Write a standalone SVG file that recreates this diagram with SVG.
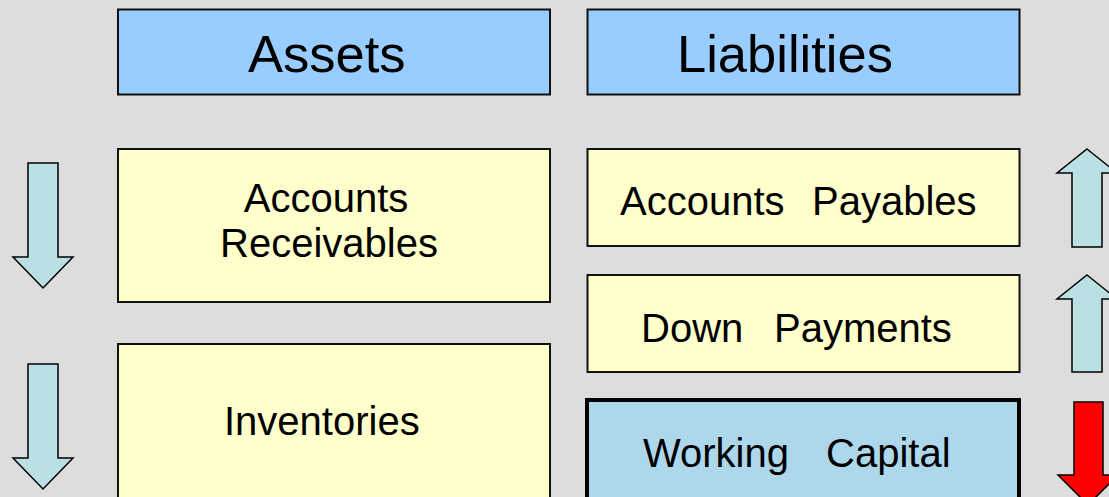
<svg xmlns="http://www.w3.org/2000/svg" width="1109" height="497" viewBox="0 0 1109 497">
<style>
.box{stroke:#111;stroke-width:2}
.hdr{fill:#99ccff}
.yel{fill:#ffffcc}
.wc{fill:#add8ec;stroke:#000;stroke-width:4}
.t{font-family:"Liberation Sans",Arial,sans-serif;fill:#000}
.big{font-size:52.5px}
.mid{font-size:40px}
.arr{fill:#bbe0e3;stroke:#000;stroke-width:1.5;stroke-linejoin:miter}
.red{fill:#ff0000;stroke:#000;stroke-width:1.5}
</style>
<rect x="0" y="0" width="1109" height="497" fill="#dddddd"/>
<g id="assets">
<rect class="box hdr" x="118" y="9.5" width="432" height="85"/>
<text class="t big" x="248" y="72">Assets</text>
</g>
<g id="liabilities">
<rect class="box hdr" x="587.5" y="9.5" width="432" height="85"/>
<text class="t big" x="677" y="72">Liabilities</text>
</g>
<g id="accounts-receivables">
<rect class="box yel" x="118" y="149" width="432" height="153"/>
<text class="t mid" text-anchor="middle"><tspan x="326" y="212">Accounts</tspan><tspan x="329" y="257">Receivables</tspan></text>
</g>
<g id="inventories">
<rect class="box yel" x="118" y="344" width="432" height="200"/>
<text class="t mid" x="224" y="435">Inventories</text>
</g>
<g id="accounts-payables">
<rect class="box yel" x="587.5" y="149" width="432" height="97"/>
<text class="t mid" y="215"><tspan x="620">Accounts</tspan> <tspan x="812">Payables</tspan></text>
</g>
<g id="down-payments">
<rect class="box yel" x="587.5" y="275" width="432" height="97"/>
<text class="t mid" y="342"><tspan x="641">Down</tspan> <tspan x="774">Payments</tspan></text>
</g>
<g id="working-capital">
<rect class="wc" x="587" y="400" width="432" height="140"/>
<text class="t mid" y="467"><tspan x="643">Working</tspan> <tspan x="826">Capital</tspan></text>
</g>
<g id="connectors">
<g id="arrow-ar-down"><polygon class="arr" points="28,163 58,163 58,257 73,257 43,288 13,257 28,257"/></g>
<g id="arrow-inv-down"><polygon class="arr" points="28,364 58,364 58,458 73,458 43,489 13,458 28,458"/></g>
<g id="arrow-ap-up"><polygon class="arr" points="1087,149 1117,173 1102,173 1102,247 1072,247 1072,173 1057,173"/></g>
<g id="arrow-dp-up"><polygon class="arr" points="1087,275 1117,299 1102,299 1102,372 1072,372 1072,299 1057,299"/></g>
<g id="arrow-wc-down"><polygon class="red" points="1074,402 1103,402 1103,475 1118,475 1088,505 1058,475 1074,475"/></g>
</g>
</svg>
